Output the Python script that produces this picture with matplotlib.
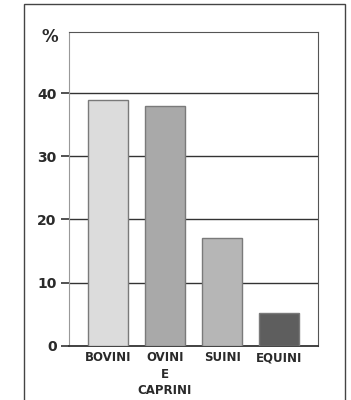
import matplotlib.pyplot as plt
from matplotlib.patches import Rectangle

categories = ["BOVINI", "OVINI\nE\nCAPRINI", "SUINI", "EQUINI"]
values = [39, 38, 17, 5.2]
bar_colors = ["#dcdcdc", "#a9a9a9", "#b6b6b6", "#5e5e5e"]
yticks = [0, 10, 20, 30, 40]

plt.rcParams['font.family'] = ['DejaVu Sans']

fig = plt.figure(figsize=(3.51, 4.0), dpi=100)
W, H = 351, 400

# outer frame of the printed figure (bottom edge runs off the page)
fig.patches.append(Rectangle((24 / W, -0.05), (345 - 24) / W, 1.05 - 4 / H,
                             transform=fig.transFigure, fill=False, edgecolor="#444444", lw=1.0))

ax = fig.add_axes([69 / W, (H - 345.7) / H, (318 - 69) / W, (345.7 - 32) / H])

x = range(len(categories))
ax.bar(x, values, width=0.7, color=bar_colors, edgecolor="#7a7a7a", lw=1.0, zorder=3)

ax.set_xlim(-0.675, 3.675)
ax.set_ylim(0, 49.7)

ax.set_yticks(yticks)
ax.set_yticklabels([str(t) for t in yticks], fontsize=10, fontweight="bold", color="#2a2a2a")
ax.tick_params(axis="y", length=6, width=1.2, color="#333333", pad=3)
ax.set_xticks(list(x))
ax.set_xticklabels(categories, fontsize=8.5, fontweight="bold", color="#2a2a2a", linespacing=1.35)
ax.tick_params(axis="x", length=0, pad=4)

for t in yticks[1:]:
    ax.axhline(t, color="#333333", lw=1.0, zorder=1)

ax.spines["left"].set_color("#999999")
ax.spines["top"].set_color("#555555")
ax.spines["right"].set_color("#555555")
ax.spines["bottom"].set_color("#333333")
ax.spines["bottom"].set_linewidth(1.3)

fig.text(50 / W, 1 - 37 / H, "%", fontsize=12, fontweight="bold", color="#2a2a2a", ha="center", va="center")

fig.savefig("out.png", dpi=100)
